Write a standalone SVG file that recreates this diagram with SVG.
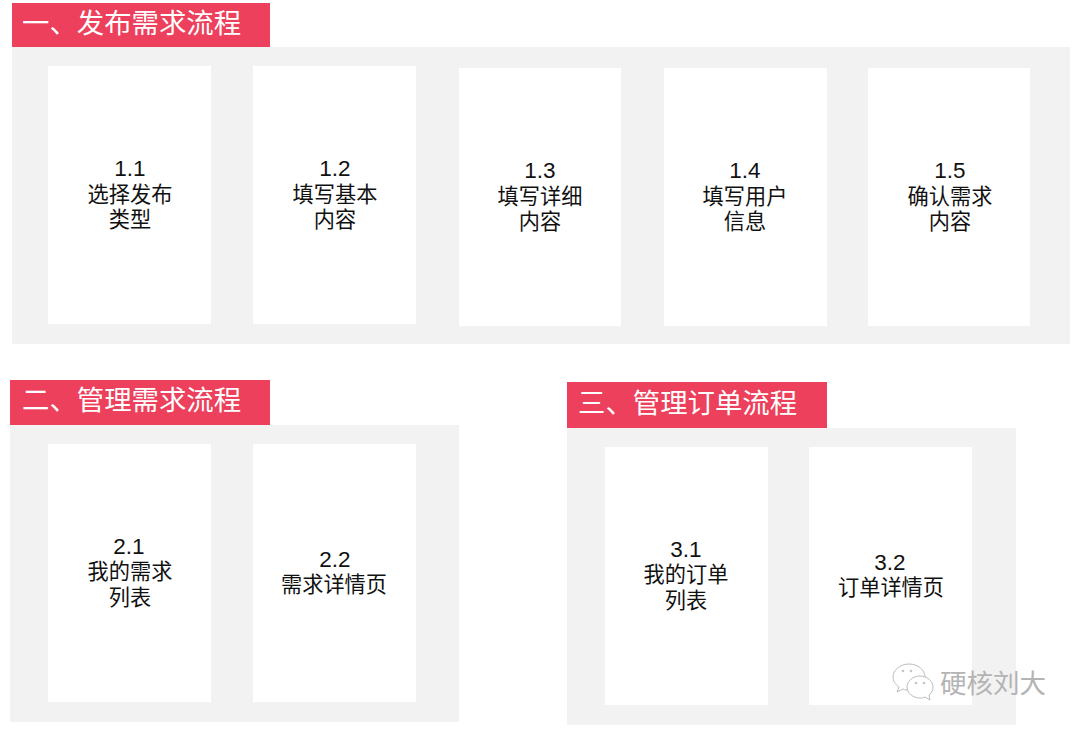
<svg xmlns="http://www.w3.org/2000/svg" width="1080" height="731" viewBox="0 0 1080 731">
<style>
text{font-family:"Liberation Sans","Noto Sans CJK SC",sans-serif}
.panel{fill:#f2f2f2}
.head{fill:#ec405c}
.card{fill:#fff}
.ht{fill:#fff;font-size:27.4px}
.ct{fill:#111;font-size:21.2px;text-anchor:middle}
.num{font-size:22.5px}
.wm{fill:#b4b4b4;font-size:26.5px}
.wi{fill:#fff;stroke:#bdbdbd;stroke-width:1}
</style>
<rect width="1080" height="731" fill="#fff"/>
<g id="section-1">
<rect class="panel" x="12" y="47" width="1058" height="297"/>
<rect class="head" x="12" y="3" width="258" height="44"/>
<text class="ht" x="22" y="33">一、发布需求流程</text>
</g>
<g id="node-1-1"><rect class="card" x="48" y="66" width="163" height="258"/><text class="ct num" x="130" y="176">1.1</text><text class="ct" x="130" y="202">选择发布</text><text class="ct" x="130" y="227">类型</text></g>
<g id="node-1-2"><rect class="card" x="253" y="66" width="163" height="258"/><text class="ct num" x="335" y="176">1.2</text><text class="ct" x="335" y="202">填写基本</text><text class="ct" x="335" y="227">内容</text></g>
<g id="node-1-3"><rect class="card" x="459" y="68" width="162" height="258"/><text class="ct num" x="540" y="178">1.3</text><text class="ct" x="540" y="204">填写详细</text><text class="ct" x="540" y="229">内容</text></g>
<g id="node-1-4"><rect class="card" x="664" y="68" width="163" height="258"/><text class="ct num" x="745" y="178">1.4</text><text class="ct" x="745" y="204">填写用户</text><text class="ct" x="745" y="229">信息</text></g>
<g id="node-1-5"><rect class="card" x="868" y="68" width="162" height="258"/><text class="ct num" x="950" y="178">1.5</text><text class="ct" x="950" y="204">确认需求</text><text class="ct" x="950" y="229">内容</text></g>
<g id="section-2">
<rect class="panel" x="10" y="425" width="449" height="297"/>
<rect class="head" x="10" y="380" width="260" height="45"/>
<text class="ht" x="22" y="410">二、管理需求流程</text>
</g>
<g id="node-2-1"><rect class="card" x="48" y="444" width="163" height="258"/><text class="ct num" x="129" y="554">2.1</text><text class="ct" x="130" y="579">我的需求</text><text class="ct" x="130" y="605">列表</text></g>
<g id="node-2-2"><rect class="card" x="253" y="444" width="163" height="258"/><text class="ct num" x="335" y="567">2.2</text><text class="ct" x="334" y="592">需求详情页</text></g>
<g id="section-3">
<rect class="panel" x="567" y="428" width="449" height="297"/>
<rect class="head" x="567" y="382" width="260" height="46"/>
<text class="ht" x="578" y="413">三、管理订单流程</text>
</g>
<g id="node-3-1"><rect class="card" x="605" y="447" width="163" height="258"/><text class="ct num" x="686" y="557">3.1</text><text class="ct" x="686" y="582">我的订单</text><text class="ct" x="686" y="608">列表</text></g>
<g id="node-3-2"><rect class="card" x="809" y="447" width="163" height="258"/><text class="ct num" x="890" y="570">3.2</text><text class="ct" x="891" y="595">订单详情页</text></g>
<g id="connectors"></g>
<g id="watermark">
<path class="wi" d="M909 664c-9 0-16 6-16 13 0 4 2 7 6 10l-2 5 6-3c2 1 4 1 6 1 8 0 16-6 16-13s-7-13-16-13z"/>
<path class="wi" d="M920 676c-7 0-13 5-13 11s6 11 13 11c2 0 3 0 5-1l5 3-1-5c3-2 4-5 4-8 0-6-6-11-13-11z"/>
<circle cx="903" cy="671" r="1.3" fill="#c4c4c4"/><circle cx="911" cy="671" r="1.3" fill="#c4c4c4"/>
<circle cx="916" cy="683" r="1.3" fill="#c4c4c4"/><circle cx="924" cy="683" r="1.3" fill="#c4c4c4"/>
<text class="wm" x="940" y="693">硬核刘大</text>
</g>
</svg>
